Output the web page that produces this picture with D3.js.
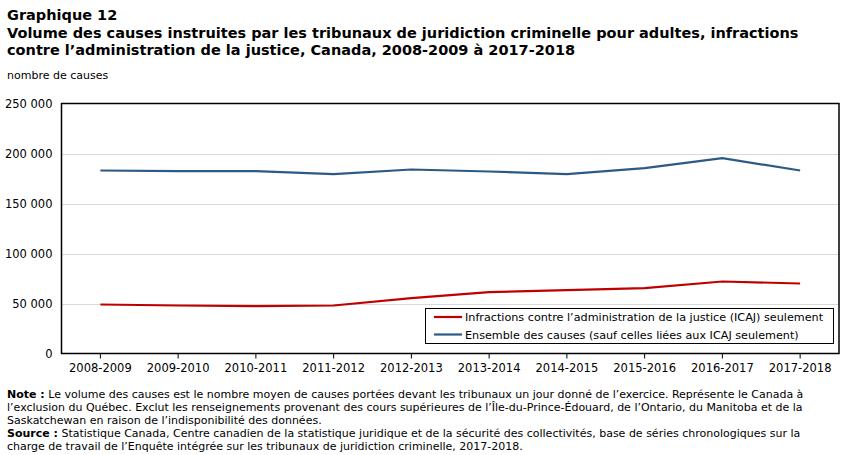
<!DOCTYPE html>
<html><head><meta charset="utf-8">
<script src="https://cdn.jsdelivr.net/npm/d3@7"></script>
<style>
body{margin:0;background:#fff;}
svg text{font-family:"DejaVu Sans",Verdana,sans-serif;fill:#000;}
</style></head>
<body><svg id="c" width="852" height="455"></svg>
<script>
const categories = ["2008-2009","2009-2010","2010-2011","2011-2012","2012-2013","2013-2014","2014-2015","2015-2016","2016-2017","2017-2018"];
const icajValues = [49000,48000,47300,48000,55300,61300,63300,65300,72000,70000];
const allCasesValues = [183000,182300,182300,179300,184000,182000,179300,185300,195300,183000];
const yTicks = [0,50000,100000,150000,200000,250000];
const seriesNames = ["Infractions contre l\u2019administration de la justice (ICAJ) seulement","Ensemble des causes (sauf celles li\u00e9es aux ICAJ seulement)"];
const seriesColors = ["#c00000","#2b5a85"];

const svg = d3.select("#c");
const L=61.5, R=839, T=103.5, B=353.5;
const x = d3.scaleBand().domain(categories).range([L,R]).padding(0);
const y = d3.scaleLinear().domain([0,250000]).range([B,T]);
const fmt = v => d3.format(",")(v).replace(/,/g,"\u00a0");

// titles
const title = svg.append("g").attr("font-weight","bold").attr("font-size","14.5px");
title.append("text").attr("x",7).attr("y",20).text("Graphique 12");
title.append("text").attr("x",7).attr("y",38).text("Volume des causes instruites par les tribunaux de juridiction criminelle pour adultes, infractions");
title.append("text").attr("x",7).attr("y",55).text("contre l\u2019administration de la justice, Canada, 2008-2009 \u00e0 2017-2018");
svg.append("text").attr("x",7).attr("y",79).attr("font-size","11px").text("nombre de causes");

// grid
svg.append("g").selectAll("line").data(yTicks.filter(d=>d>0&&d<250000)).join("line")
 .attr("x1",L).attr("x2",R).attr("y1",d=>Math.round(y(d))+0.5).attr("y2",d=>Math.round(y(d))+0.5)
 .attr("stroke","#d9d9d9").attr("stroke-width",1);

// y axis
const ya = svg.append("g").attr("transform",`translate(${L},0)`)
 .call(d3.axisLeft(y).tickValues(yTicks).tickFormat(fmt).tickSize(0).tickPadding(9));
ya.select(".domain").remove();
ya.selectAll("text").attr("font-size","11.5px").attr("font-family","DejaVu Sans,Verdana,sans-serif");

// x axis
const xa = svg.append("g").attr("transform",`translate(0,${B})`)
 .call(d3.axisBottom(x).tickSize(5).tickPadding(5));
xa.select(".domain").remove();
xa.selectAll("line").attr("stroke","#000");
xa.selectAll("text").attr("font-size","11.5px").attr("font-family","DejaVu Sans,Verdana,sans-serif");

// frame
svg.append("rect").attr("x",L).attr("y",T).attr("width",R-L).attr("height",B-T)
 .attr("fill","none").attr("stroke","#000").attr("stroke-width",1.5);

// lines
const line = d3.line().x((d,i)=>x(categories[i])+x.bandwidth()/2).y(d=>y(d));
[icajValues, allCasesValues].forEach((vals,k)=>{
  svg.append("path").datum(vals).attr("d",line).attr("fill","none")
   .attr("stroke",seriesColors[k]).attr("stroke-width",2.2);
});

// legend
const lg = svg.append("g");
lg.append("rect").attr("x",425.5).attr("y",308.5).attr("width",408).attr("height",35)
 .attr("fill","#fff").attr("stroke","#000").attr("stroke-width",1);
seriesNames.forEach((n,k)=>{
  const yy = 317 + k*17.5;
  lg.append("line").attr("x1",434).attr("x2",462).attr("y1",yy).attr("y2",yy)
   .attr("stroke",seriesColors[k]).attr("stroke-width",2.2);
  lg.append("text").attr("x",465).attr("y",yy+4).attr("font-size","11.2px").text(n);
});

// notes
const notes = [
 [["Note\u00a0:", true],[" Le volume des causes est le nombre moyen de causes port\u00e9es devant les tribunaux un jour donn\u00e9 de l\u2019exercice. Repr\u00e9sente le Canada \u00e0", false]],
 [["l\u2019exclusion du Qu\u00e9bec. Exclut les renseignements provenant des cours sup\u00e9rieures de l\u2019\u00cele-du-Prince-\u00c9douard, de l\u2019Ontario, du Manitoba et de la", false]],
 [["Saskatchewan en raison de l\u2019indisponibilit\u00e9 des donn\u00e9es.", false]],
 [["Source\u00a0:", true],[" Statistique Canada, Centre canadien de la statistique juridique et de la s\u00e9curit\u00e9 des collectivit\u00e9s, base de s\u00e9ries chronologiques sur la", false]],
 [["charge de travail de l\u2019Enqu\u00eate int\u00e9gr\u00e9e sur les tribunaux de juridiction criminelle, 2017-2018.", false]]
];
notes.forEach((parts,i)=>{
  const t = svg.append("text").attr("x",7).attr("y",398+i*13).attr("font-size","11px");
  parts.forEach(p=>t.append("tspan").attr("font-weight",p[1]?"bold":"normal").text(p[0]));
});
</script></body></html>
